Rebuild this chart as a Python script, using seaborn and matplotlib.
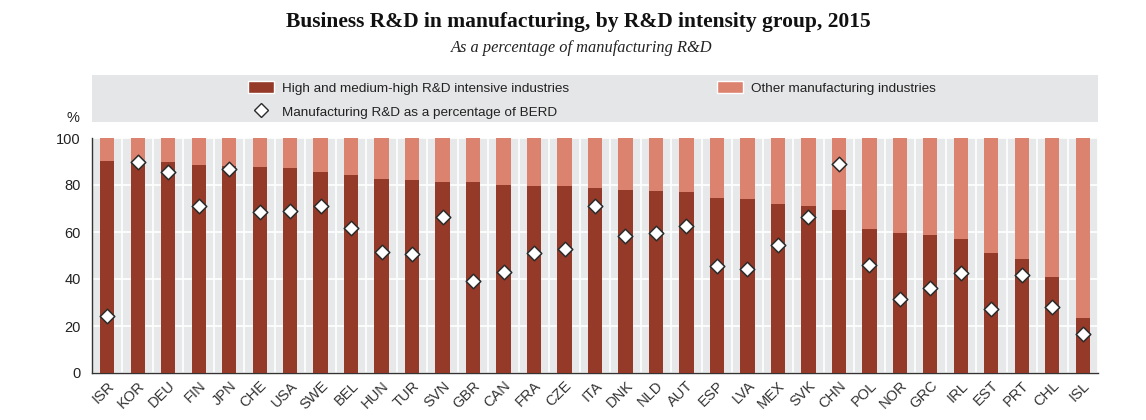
import numpy as np
import pandas as pd
import matplotlib
matplotlib.use("Agg")
import matplotlib.pyplot as plt
from matplotlib import font_manager
from matplotlib.patches import Rectangle, Patch
from matplotlib.lines import Line2D
import seaborn as sns

# --- data ---
countries = ["ISR", "KOR", "DEU", "FIN", "JPN", "CHE", "USA", "SWE", "BEL", "HUN", "TUR",
             "SVN", "GBR", "CAN", "FRA", "CZE", "ITA", "DNK", "NLD", "AUT", "ESP", "LVA",
             "MEX", "SVK", "CHN", "POL", "NOR", "GRC", "IRL", "EST", "PRT", "CHL", "ISL"]
high_share = [90.4, 89.7, 89.6, 88.4, 88.0, 87.7, 87.2, 85.5, 84.4, 82.6, 82.1,
              81.4, 81.4, 80.0, 79.7, 79.4, 78.6, 77.9, 77.6, 77.2, 74.5, 74.2,
              72.1, 70.9, 69.4, 61.3, 59.6, 58.7, 57.0, 51.1, 48.5, 40.7, 23.3]
other_share = [100 - v for v in high_share]
manuf_berd = [24.4, 89.8, 85.4, 71.2, 86.9, 68.4, 68.8, 70.9, 61.8, 51.6, 50.6,
              66.5, 39.3, 43.1, 51.2, 52.9, 71.2, 58.3, 59.4, 62.6, 45.7, 44.4,
              54.5, 66.2, 88.9, 46.0, 31.3, 36.0, 42.4, 27.1, 41.7, 27.9, 16.6]

df = pd.DataFrame({"country": countries, "high": high_share,
                   "other": other_share, "berd": manuf_berd})
df["total"] = df["high"] + df["other"]

dark = "#953a28"
light = "#dc8370"
panel = "#e6e8ea"

sns.set_style("white")
names = {f.name for f in font_manager.fontManager.ttflist}
narrow = "Liberation Sans Narrow" if "Liberation Sans Narrow" in names else "Liberation Sans"
plt.rcParams["font.family"] = [narrow, "DejaVu Sans"]

fig = plt.figure(figsize=(11.46, 4.2), dpi=100)
ax = fig.add_axes([92 / 1146, 1 - 373 / 420, (1098 - 92) / 1146, (373 - 138) / 420])
ax.set_facecolor(panel)

# light bar = whole 100%, dark bar drawn on top of it
sns.barplot(data=df, x="country", y="total", color=light, width=0.47,
            saturation=1, linewidth=0, ax=ax, zorder=3)
sns.barplot(data=df, x="country", y="high", color=dark, width=0.47,
            saturation=1, linewidth=0, ax=ax, zorder=3)
sns.scatterplot(data=df, x="country", y="berd", marker="D", s=55, color="white",
                edgecolor="#2b2b2b", linewidth=1.1, ax=ax, zorder=5)

ax.set_xlim(-0.5, len(countries) - 0.5)
ax.set_ylim(0, 100)
ax.set_yticks([0, 20, 40, 60, 80, 100])
ax.set_xticks(np.arange(len(countries)) + 0.5, minor=True)
ax.grid(True, axis="y", which="major", color="white", linewidth=1.2, zorder=1)
ax.grid(True, axis="x", which="minor", color="white", linewidth=1.2, zorder=1)
ax.grid(False, axis="x", which="major")
ax.set_axisbelow(True)
ax.set_xlabel("")
ax.set_ylabel("")
for s in ["top", "right"]:
    ax.spines[s].set_visible(False)
for s in ["left", "bottom"]:
    ax.spines[s].set_color("#333333")
    ax.spines[s].set_linewidth(1.0)
ax.tick_params(axis="x", which="major", length=0, pad=4, labelsize=10.5, labelcolor="#333333")
ax.tick_params(axis="x", which="minor", length=4, color="#333333", direction="out")
ax.tick_params(axis="y", length=0, pad=8, labelsize=10.5, labelcolor="#222222")
for lab in ax.get_xticklabels():
    lab.set_rotation(45)
    lab.set_ha("right")
    lab.set_rotation_mode("anchor")

# legend panel
fig.patches.append(Rectangle((92 / 1146, 1 - 122 / 420), (1098 - 92) / 1146, 47 / 420,
                             transform=fig.transFigure, facecolor="#e5e6e8",
                             edgecolor="none", zorder=0))
handles = [Patch(facecolor=dark), Line2D([], [], marker="D", linestyle="none",
                                          markerfacecolor="white", markeredgecolor="#2b2b2b",
                                          markersize=7),
           Patch(facecolor=light)]
labels = ["High and medium-high R&D intensive industries",
          "Manufacturing R&D as a percentage of BERD",
          "Other manufacturing industries"]
fig.legend(handles, labels, ncol=2, loc="upper left", bbox_to_anchor=(236 / 1146, 1 - 69 / 420),
           frameon=False, fontsize=9.7, handlelength=1.9, handleheight=1.0,
           handletextpad=0.6, columnspacing=11.0, labelspacing=0.75, labelcolor="#222222")

fig.text(73 / 1146, 1 - 118 / 420, "%", fontsize=10.5, ha="center", va="center", color="#222222")
fig.text(578 / 1146, 1 - 22 / 420, "Business R&D in manufacturing, by R&D intensity group, 2015",
         fontsize=15.5, fontweight="bold", family="Liberation Serif", ha="center", va="center",
         color="#111111")
fig.text(582 / 1146, 1 - 48 / 420, "As a percentage of manufacturing R&D",
         fontsize=11.8, style="italic", family="Liberation Serif", ha="center", va="center",
         color="#222222")

fig.savefig("out.png", dpi=100)
